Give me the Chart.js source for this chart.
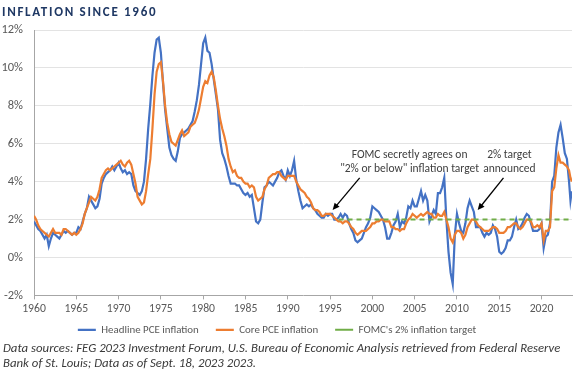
<!DOCTYPE html>
<html><head><meta charset="utf-8">
<script src="https://cdn.jsdelivr.net/npm/chart.js@4.4.0/dist/chart.umd.min.js"></script>
<style>
html,body{margin:0;padding:0;background:#fff;}
body{width:575px;height:372px;position:relative;overflow:hidden;font-family:Carlito,Lato,sans-serif;}
#wrap{position:absolute;left:0;top:0;width:575px;height:372px;}
#title{position:absolute;left:2px;top:4px;font-weight:bold;font-size:13px;letter-spacing:1.7px;color:#1f3864;white-space:nowrap;}
#note{position:absolute;left:3px;top:340px;font-style:italic;font-size:12.8px;line-height:15px;color:#3a3a3a;white-space:nowrap;}
</style></head>
<body>
<div id="wrap"><canvas id="c"></canvas></div>
<div id="title">INFLATION SINCE 1960</div>
<div id="note">Data sources: FEG 2023 Investment Forum, U.S. Bureau of Economic Analysis retrieved from Federal Reserve<br>Bank of St. Louis; Data as of Sept. 18, 2023 2023.</div>
<script>
// ---- data (quarterly 1960Q1..2022Q4, then 2023 points) ----
const firstYear = 1960, lastFullYear = 2022;
const dates2023 = [2023.0, 2023.25, 2023.42, 2023.58];

const headline = [
 1.9,1.7,1.5,1.4, 1.2,1.0,1.2,0.6, 1.0,1.3,1.2,1.1, 1.0,1.2,1.4,1.3, 1.4,1.3,1.2,1.3,
 1.3,1.6,1.5,1.9, 2.3,2.6,3.2,3.0, 2.8,2.6,2.7,3.1, 3.9,4.2,4.4,4.5, 4.6,4.8,4.6,4.8,
 5.0,4.7,4.5,4.6, 4.4,4.5,4.4,3.8, 3.5,3.4,3.3,3.5, 4.0,5.2,6.8,8.1, 9.6,10.8,11.5,11.6,
 10.8,9.2,7.8,6.8, 5.8,5.4,5.2,5.1, 5.6,6.3,6.5,6.6, 6.7,6.8,7.0,7.2, 7.7,8.3,9.1,10.2,
 11.3,11.6,10.9,10.8, 10.2,9.4,8.6,7.8, 6.2,5.5,5.2,4.8, 4.3,3.9,3.9,3.9, 3.8,3.8,3.6,3.4,
 3.3,3.4,3.2,3.3, 2.6,1.9,1.8,2.0, 2.9,3.7,3.8,4.0, 3.9,3.8,4.0,4.2, 4.5,4.6,4.3,4.1,
 4.6,4.3,4.6,5.1, 4.1,3.5,3.0,2.6, 2.7,2.8,2.7,2.8, 2.6,2.5,2.3,2.2, 2.1,2.1,2.3,2.2,
 2.3,2.3,2.0,2.0, 2.1,2.3,2.1,2.3, 2.2,1.8,1.5,1.3, 0.9,0.8,0.9,1.0, 1.3,1.6,1.8,2.1,
 2.7,2.6,2.5,2.4, 2.2,2.0,1.6,1.0, 1.0,1.3,1.7,1.9, 2.3,1.6,1.9,1.8, 2.1,2.7,2.6,3.0,
 2.7,2.7,3.1,3.5, 3.0,3.3,3.0,1.9, 2.2,2.5,2.3,3.4, 3.4,3.7,4.2,2.0, 0.3,-0.8,-1.4,1.2,
 2.3,1.8,1.4,1.3, 1.8,2.6,3.0,2.7, 2.4,1.6,1.6,1.6, 1.3,1.1,1.3,1.2, 1.3,1.7,1.5,1.1,
 0.3,0.2,0.3,0.5, 0.9,0.9,1.1,1.6, 2.0,1.5,1.6,1.8, 2.1,2.3,2.2,1.8, 1.4,1.4,1.4,1.5,
 1.8,0.5,1.1,1.2, 1.8,4.0,4.3,5.8, 6.6,7.0,6.3,5.5,
 5.2,4.0,3.0,3.5
];
const core = [
 2.2,2.0,1.7,1.5, 1.4,1.3,1.2,1.1, 1.3,1.5,1.3,1.3, 1.3,1.2,1.5,1.5, 1.4,1.3,1.2,1.3,
 1.2,1.3,1.5,1.8, 2.3,2.6,2.9,3.2, 3.1,3.0,3.2,3.6, 4.2,4.4,4.6,4.7, 4.6,4.7,4.8,4.9,
 5.0,5.1,4.9,4.8, 5.0,5.1,4.9,4.4, 3.9,3.2,3.0,2.8, 2.9,3.5,4.4,5.2, 6.8,8.6,9.8,10.2,
 10.3,9.3,8.0,7.1, 6.5,6.1,6.0,5.9, 6.2,6.5,6.7,6.4, 6.5,6.6,6.9,7.0, 7.1,7.4,7.8,8.4,
 9.0,9.3,9.2,9.6, 9.8,9.5,8.8,8.0, 7.3,6.8,6.4,5.9, 5.2,4.8,4.5,4.6, 4.3,4.2,4.2,4.0,
 3.9,3.9,3.7,3.8, 3.7,3.2,3.0,3.1, 3.2,3.6,3.8,4.2, 4.3,4.4,4.4,4.5, 4.5,4.3,4.2,4.1,
 4.3,4.3,4.3,4.3, 4.0,3.8,3.6,3.5, 3.4,3.2,3.1,2.9, 2.6,2.5,2.5,2.4, 2.2,2.2,2.3,2.3,
 2.3,2.2,2.1,2.0, 1.9,1.9,1.8,1.9, 1.9,1.8,1.6,1.5, 1.3,1.2,1.3,1.4, 1.4,1.4,1.5,1.6,
 1.8,1.8,1.9,1.9, 2.0,2.0,1.9,1.9, 1.9,1.6,1.6,1.5, 1.5,1.4,1.5,1.5, 1.8,2.0,2.1,2.3,
 2.2,2.1,2.2,2.3, 2.2,2.3,2.4,2.3, 2.3,2.1,2.1,2.3, 2.2,2.2,2.4,2.0, 1.6,1.0,0.8,1.2,
 1.4,1.4,1.3,1.0, 1.2,1.6,1.8,2.0, 2.0,1.9,1.7,1.6, 1.5,1.4,1.4,1.4, 1.5,1.6,1.6,1.5,
 1.3,1.3,1.3,1.4, 1.6,1.6,1.7,1.8, 1.8,1.6,1.5,1.6, 1.8,2.0,2.0,1.9, 1.6,1.6,1.7,1.6,
 1.8,0.9,1.4,1.4, 1.6,3.5,3.7,4.7, 5.4,5.0,5.0,4.9,
 4.8,4.6,4.2,4.0
];
const targetValue = 2;
const targetStart = 1996;
const xMin = 1960, xMax = 2023.6;
const xTicks = [1960, 1965, 1970, 1975, 1980, 1985, 1990, 1995, 2000, 2005, 2010, 2015, 2020];
const yTicks = [-2, 0, 2, 4, 6, 8, 10, 12];
const seriesNames = ['Headline PCE inflation', 'Core PCE inflation', "FOMC's 2% inflation target"];

const annotations = [
  {lines: ['FOMC secretly agrees on', '"2% or below" inflation target'], x: 2004.4, y: 5.4, from: [1998.5, 4.2], to: [1995.3, 2.5]},
  {lines: ['2% target', 'announced'], x: 2016.2, y: 5.4, from: [2015.5, 4.2], to: [2012.45, 2.5]}
];

// build dates (time axis)
const dates = [];
for (let y = firstYear; y <= lastFullYear; y++) for (let q = 0; q < 4; q++) dates.push(y + q * 0.25);
dates2023.forEach(d => dates.push(d));

const toXY = vals => vals.map((v, i) => ({x: dates[i], y: v}));

const FONT = 'Carlito, Lato, sans-serif';

const annotPlugin = {
  id: 'annot',
  afterDatasetsDraw(chart) {
    const {ctx, scales: {x, y}} = chart;
    ctx.save();
    annotations.forEach(a => {
      ctx.fillStyle = '#404040';
      ctx.font = '11.5px ' + FONT;
      ctx.textAlign = 'center';
      ctx.textBaseline = 'middle';
      const cx = x.getPixelForValue(a.x), cy = y.getPixelForValue(a.y);
      a.lines.forEach((t, i) => ctx.fillText(t, cx, cy + i * 14.5));
      const x1 = x.getPixelForValue(a.from[0]), y1 = y.getPixelForValue(a.from[1]);
      const x2 = x.getPixelForValue(a.to[0]), y2 = y.getPixelForValue(a.to[1]);
      const ang = Math.atan2(y2 - y1, x2 - x1);
      const hl = 7, hw = 3.2;
      ctx.strokeStyle = '#000';
      ctx.lineWidth = 1.3;
      ctx.beginPath();
      ctx.moveTo(x1, y1);
      ctx.lineTo(x2 - Math.cos(ang) * hl * 0.8, y2 - Math.sin(ang) * hl * 0.8);
      ctx.stroke();
      ctx.fillStyle = '#000';
      ctx.beginPath();
      ctx.moveTo(x2, y2);
      ctx.lineTo(x2 - Math.cos(ang) * hl - Math.sin(ang) * hw, y2 - Math.sin(ang) * hl + Math.cos(ang) * hw);
      ctx.lineTo(x2 - Math.cos(ang) * hl + Math.sin(ang) * hw, y2 - Math.sin(ang) * hl - Math.cos(ang) * hw);
      ctx.closePath();
      ctx.fill();
    });
    ctx.restore();
  }
};

// place legend row just under the axis labels
const legendPlace = {
  id: 'legendPlace',
  afterLayout(chart) {
    const lg = chart.legend;
    if (!lg) return;
    const h = lg.bottom - lg.top;
    const dy = (chart.chartArea.bottom + 12) - lg.top;
    lg.top += dy; lg.bottom = lg.top + h;
    lg.left -= 9; lg.right -= 9;
  }
};

new Chart(document.getElementById('c'), {
  type: 'line',
  data: {
    datasets: [
      {label: seriesNames[0], data: toXY(headline), borderColor: '#4472c4', backgroundColor: '#4472c4', borderWidth: 2.2, pointRadius: 0, tension: 0, order: 2},
      {label: seriesNames[1], data: toXY(core), borderColor: '#ed7d31', backgroundColor: '#ed7d31', borderWidth: 2.2, pointRadius: 0, tension: 0, order: 1},
      {label: seriesNames[2], data: [{x: targetStart, y: targetValue}, {x: xMax, y: targetValue}], borderColor: '#70ad47', backgroundColor: '#70ad47', borderWidth: 2, borderDash: [5, 4], pointRadius: 0, order: 0}
    ]
  },
  options: {
    responsive: true,
    maintainAspectRatio: false,
    animation: false,
    layout: {padding: {left: 0, right: 3, top: 30, bottom: 12.7}},
    plugins: {
      tooltip: {enabled: false},
      legend: {
        position: 'bottom',
        labels: {
          usePointStyle: true, pointStyle: 'line', pointStyleWidth: 18,
          boxHeight: 11, padding: 17,
          sort: (a, b) => a.datasetIndex - b.datasetIndex,
          color: '#595959', font: {family: FONT, size: 10.9}
        }
      }
    },
    scales: {
      x: {
        type: 'linear', min: xMin, max: xMax,
        afterFit: s => { s.height = 26; },
        afterBuildTicks: s => { s.ticks = xTicks.map(v => ({value: v})); },
        ticks: {autoSkip: false, maxRotation: 0, color: '#595959', font: {family: FONT, size: 11.7}, padding: 3, callback: v => String(v)},
        grid: {drawOnChartArea: false, drawTicks: true, tickLength: 4, color: '#a6a6a6'},
        border: {color: '#a6a6a6', width: 1}
      },
      y: {
        min: yTicks[0], max: yTicks[yTicks.length - 1],
        afterFit: s => { s.width = 34; },
        afterBuildTicks: s => { s.ticks = yTicks.map(v => ({value: v})); },
        ticks: {color: '#595959', font: {family: FONT, size: 12.5}, padding: 11, callback: v => v + '%'},
        grid: {color: c => c.tick && c.tick.value === yTicks[0] ? 'rgba(0,0,0,0)' : '#e3e3e3', drawTicks: false},
        border: {color: '#a6a6a6', width: 1}
      }
    }
  },
  plugins: [annotPlugin, legendPlace]
});
</script>
</body></html>
